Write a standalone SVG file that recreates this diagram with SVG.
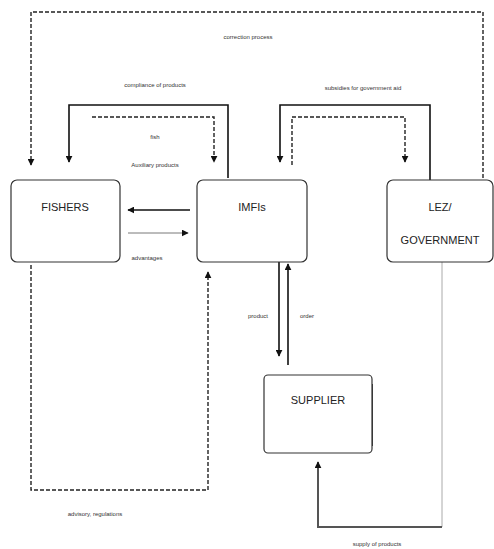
<svg xmlns="http://www.w3.org/2000/svg" width="494" height="549" viewBox="0 0 494 549">
<style>
.box{fill:#fff;stroke:#333;stroke-width:1.2}
.lbl{font-family:"Liberation Sans",Arial,sans-serif;font-size:11px;fill:#222;text-anchor:middle}
.sm{font-family:"Liberation Sans",Arial,sans-serif;font-size:6px;fill:#333;text-anchor:middle}
.solid{fill:none;stroke:#111;stroke-width:1.6}
.dash{fill:none;stroke:#222;stroke-width:1.4;stroke-dasharray:4 2}
.thin{fill:none;stroke:#555;stroke-width:0.8}
</style>
<defs>
<marker id="ah" viewBox="0 0 10 10" refX="9" refY="5" markerWidth="7" markerHeight="7" markerUnits="userSpaceOnUse" orient="auto"><path d="M0,0 L10,5 L0,10 z" fill="#111"/></marker>
</defs>
<rect width="494" height="549" fill="#fff"/>
<g id="connectors">
<path class="dash" d="M483,178 V12 H31 V165" marker-end="url(#ah)"/>
<path class="solid" d="M228,178 V105 H69 V162" marker-end="url(#ah)"/>
<path class="dash" d="M92,117 H214 V162" marker-end="url(#ah)"/>
<path class="solid" d="M430,180 V105 H280 V162" marker-end="url(#ah)"/>
<path class="dash" d="M292,165 V117 H405 V162" marker-end="url(#ah)"/>
<line class="solid" x1="190" y1="210" x2="128" y2="210" marker-end="url(#ah)"/>
<line class="thin" x1="128" y1="233" x2="188" y2="233" marker-end="url(#ah)"/>
<line class="solid" x1="279" y1="262" x2="279" y2="356" marker-end="url(#ah)"/>
<line class="solid" x1="288" y1="365" x2="288" y2="264" marker-end="url(#ah)"/>
<path class="dash" d="M31,265 V490 H208 V272" marker-end="url(#ah)"/>
<path fill="none" stroke="#aaa" stroke-width="1" d="M442,262 V527"/>
<path fill="none" stroke="#555" stroke-width="2" d="M442,527 H318 V462" marker-end="url(#ah)"/>
<line x1="372" y1="384" x2="372" y2="446" stroke="#111" stroke-width="1.6"/>
</g>
<g id="fishers"><rect class="box" x="11" y="180" width="109" height="82" rx="6"/><text class="lbl" x="65" y="211">FISHERS</text></g>
<g id="imfis"><rect class="box" x="197" y="180" width="110" height="82" rx="6"/><text class="lbl" x="252" y="211">IMFIs</text></g>
<g id="lez"><rect class="box" x="387" y="180" width="106" height="82" rx="6"/><text class="lbl" x="440" y="211">LEZ/</text><text class="lbl" x="440" y="244">GOVERNMENT</text></g>
<g id="supplier"><rect class="box" x="264" y="375" width="108" height="78" rx="4"/><text class="lbl" x="318" y="404">SUPPLIER</text></g>
<g id="labels">
<text class="sm" x="248" y="39">correction process</text>
<text class="sm" x="155" y="87">compliance of products</text>
<text class="sm" x="363" y="90">subsidies for government aid</text>
<text class="sm" x="155" y="139">fish</text>
<text class="sm" x="155" y="167">Auxiliary products</text>
<text class="sm" x="147" y="260">advantages</text>
<text class="sm" x="258" y="318">product</text>
<text class="sm" x="307" y="318">order</text>
<text class="sm" x="95" y="516">advisory, regulations</text>
<text class="sm" x="377" y="546">supply of products</text>
</g>
</svg>
